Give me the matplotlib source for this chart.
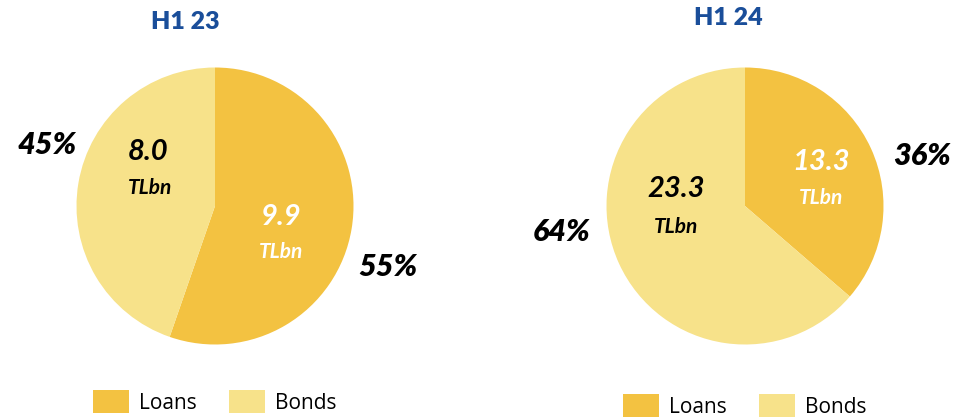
import matplotlib
matplotlib.use("Agg")
import matplotlib.pyplot as plt

plt.rcParams['font.family'] = ['Lato', 'DejaVu Sans']

categories = ["Loans", "Bonds"]
colors = ["#F3C241", "#F7E28A"]
titles = ["H1 23", "H1 24"]
values_h1_23 = [9.9, 8.0]
values_h1_24 = [13.3, 23.3]
pct_h1_23 = ["55%", "45%"]
pct_h1_24 = ["36%", "64%"]

W, H = 963, 418
fig = plt.figure(figsize=(W / 100, H / 100), dpi=100)


def px_axes(cx, cy, r):
    return fig.add_axes([(cx - r) / W, (H - cy - r) / H, 2 * r / W, 2 * r / H])


def txt(x, y, s, **kw):
    fig.text(x / W, 1 - y / H, s, ha="center", va="center", **kw)


title_color = "#1A4E9A"
num_kw = dict(fontsize=21, fontweight="bold", fontstyle="italic")
unit_kw = dict(fontsize=15, fontweight="bold", fontstyle="italic")
pct_kw = dict(fontsize=22, fontweight="heavy", fontstyle="italic", color="black")

# left pie
ax1 = px_axes(215, 206, 138.5)
w1, _ = ax1.pie(values_h1_23, colors=colors, startangle=90, counterclock=False,
                wedgeprops=dict(linewidth=0))
ax1.set_xlim(-1, 1)
ax1.set_ylim(-1, 1)
ax1.set_aspect("equal")
txt(185, 22, titles[0], fontsize=18, fontweight="heavy", color=title_color)
txt(148, 152, f"{values_h1_23[1]:.1f}", color="black", **num_kw)
txt(150, 188, "TLbn", color="black", **unit_kw)
txt(281, 217, f"{values_h1_23[0]:.1f}", color="white", **num_kw)
txt(281, 252, "TLbn", color="white", **unit_kw)
txt(47, 145, pct_h1_23[1], **pct_kw)
txt(388, 267, pct_h1_23[0], **pct_kw)

# right pie
ax2 = px_axes(745, 206, 138.5)
w2, _ = ax2.pie(values_h1_24, colors=colors, startangle=90, counterclock=False,
                wedgeprops=dict(linewidth=0))
ax2.set_xlim(-1, 1)
ax2.set_ylim(-1, 1)
ax2.set_aspect("equal")
txt(728, 18, titles[1], fontsize=18, fontweight="heavy", color=title_color)
txt(821, 162, f"{values_h1_24[0]:.1f}", color="white", **num_kw)
txt(821, 198, "TLbn", color="white", **unit_kw)
txt(676, 189, f"{values_h1_24[1]:.1f}", color="black", **num_kw)
txt(676, 227, "TLbn", color="black", **unit_kw)
txt(922, 156, pct_h1_24[0], **pct_kw)
txt(562, 232, pct_h1_24[1], **pct_kw)

leg_kw = dict(ncol=2, frameon=False, handlelength=1.7, handleheight=1.25,
              handletextpad=0.5, columnspacing=1.55, borderpad=0, loc="center",
              prop=dict(family="Open Sans", size=15))
fig.legend(w1, categories, bbox_to_anchor=(215 / W, 1 - 402 / H), **leg_kw)
fig.legend(w2, categories, bbox_to_anchor=(745 / W, 1 - 406 / H), **leg_kw)

fig.savefig("out.png", dpi=100)
